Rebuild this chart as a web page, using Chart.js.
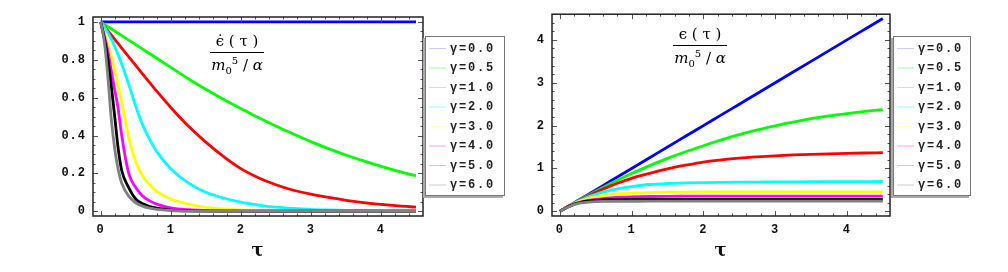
<!DOCTYPE html>
<html>
<head>
<meta charset="utf-8">
<script src="https://cdn.jsdelivr.net/npm/chart.js@4/dist/chart.umd.min.js"></script>
<style>
  body { margin: 0; background: #fff; width: 1008px; height: 272px; position: relative; overflow: hidden; }
  .panel { position: absolute; top: 0; width: 504px; height: 272px; }
  .legend { position: absolute; top: 36px; height: 158px; background: #fff; border: 1px solid #777; box-shadow: -2px 2px 0 #aaa; }
  .row { position: absolute; left: 0; height: 14px; }
  .row .sw { position: absolute; left: 3px; top: 6px; width: 17px; height: 1.5px; }
  .row .tx { position: absolute; left: 24px; top: 0; font: bold 12px "Liberation Mono", monospace; letter-spacing: 1.8px; line-height: 14px; color: #222; white-space: nowrap; }
  .frac { position: absolute; text-align: center; font-family: "DejaVu Serif", serif; font-size: 15px; color: #000; }
  .frac .num { height: 21px; line-height: 21px; border-bottom: 1px solid #000; white-space: nowrap; }
  .frac .den { height: 22px; line-height: 24px; white-space: nowrap; }
  .frac sub, .frac sup { font-size: 10px; line-height: 0; }
</style>
</head>
<body>
<div class="panel" style="left:0"><canvas id="rateChart" width="504" height="272"></canvas></div>
<div class="panel" style="left:504px"><canvas id="energyChart" width="504" height="272"></canvas></div>

<div class="frac" style="left:210px;top:31px;width:54px">
  <div class="num">ϵ̇ ( τ )</div>
  <div class="den"><i>m</i><sub>0</sub><sup>5</sup> / <i>α</i></div>
</div>
<div class="frac" style="left:673px;top:24px;width:54px">
  <div class="num">ϵ ( τ )</div>
  <div class="den"><i>m</i><sub>0</sub><sup>5</sup> / <i>α</i></div>
</div>

<div class="legend" id="legendLeft" style="left:425px;width:78px"></div>
<div class="legend" id="legendRight" style="left:893px;width:76px"></div>

<script>
// sample times
const tau = [0, 0.05, 0.1, 0.15, 0.2, 0.25, 0.3, 0.4, 0.5, 0.6, 0.7, 0.8, 1, 1.25, 1.5, 1.75, 2, 2.25, 2.5, 2.75, 3, 3.25, 3.5, 3.75, 4, 4.25, 4.5];

const gammaLabels = ["γ=0.0", "γ=0.5", "γ=1.0", "γ=2.0", "γ=3.0", "γ=4.0", "γ=5.0", "γ=6.0"];
const colors = ["#0000ff", "#00ff00", "#ff0000", "#00ffff", "#ffff00", "#ff00ff", "#000000", "#808080"];

// left panel: rate, edot(tau) / (m0^5/alpha)
const rate00 = [1, 1, 1, 1, 1, 1, 1, 1, 1, 1, 1, 1, 1, 1, 1, 1, 1, 1, 1, 1, 1, 1, 1, 1, 1, 1, 1];
const rate05 = [1, 0.988, 0.976, 0.964, 0.952, 0.94, 0.928, 0.904, 0.88, 0.856, 0.832, 0.808, 0.76, 0.70, 0.644, 0.592, 0.543, 0.495, 0.45, 0.408, 0.368, 0.331, 0.297, 0.266, 0.237, 0.211, 0.187];
const rate10 = [1, 0.977, 0.954, 0.931, 0.908, 0.885, 0.862, 0.816, 0.77, 0.724, 0.679, 0.634, 0.548, 0.45, 0.365, 0.29, 0.225, 0.177, 0.14, 0.111, 0.09, 0.073, 0.058, 0.046, 0.036, 0.028, 0.022];
const rate20 = [1, 0.975, 0.945, 0.91, 0.87, 0.826, 0.778, 0.67, 0.555, 0.455, 0.378, 0.315, 0.225, 0.15, 0.1, 0.07, 0.048, 0.033, 0.022, 0.015, 0.01, 0.007, 0.005, 0.004, 0.003, 0.002, 0.002];
const rate30 = [1, 0.945, 0.885, 0.82, 0.745, 0.66, 0.575, 0.39, 0.262, 0.185, 0.14, 0.105, 0.065, 0.038, 0.021, 0.012, 0.007, 0.005, 0.003, 0.002, 0.001, 0, 0, 0, 0, 0, 0];
const rate40 = [1, 0.93, 0.85, 0.745, 0.64, 0.54, 0.40, 0.2, 0.125, 0.08, 0.055, 0.038, 0.018, 0.008, 0.004, 0.002, 0.001, 0, 0, 0, 0, 0, 0, 0, 0, 0, 0];
const rate50 = [1, 0.915, 0.81, 0.665, 0.50, 0.33, 0.215, 0.125, 0.065, 0.04, 0.025, 0.016, 0.006, 0.002, 0.001, 0, 0, 0, 0, 0, 0, 0, 0, 0, 0, 0, 0];
const rate60 = [1, 0.9, 0.72, 0.49, 0.33, 0.22, 0.148, 0.08, 0.045, 0.027, 0.016, 0.01, 0.004, 0.001, 0, 0, 0, 0, 0, 0, 0, 0, 0, 0, 0, 0, 0];

// right panel: energy, e(tau) / (m0^5/alpha)
const energy00 = [0, 0.05, 0.1, 0.15, 0.2, 0.25, 0.3, 0.4, 0.5, 0.6, 0.7, 0.8, 1, 1.25, 1.5, 1.75, 2, 2.25, 2.5, 2.75, 3, 3.25, 3.5, 3.75, 4, 4.25, 4.5];
const energy05 = [0, 0.05, 0.099, 0.147, 0.195, 0.243, 0.289, 0.381, 0.47, 0.557, 0.641, 0.723, 0.88, 1.065, 1.235, 1.39, 1.53, 1.665, 1.79, 1.9, 1.995, 2.08, 2.16, 2.225, 2.28, 2.33, 2.375];
const energy10 = [0, 0.049, 0.098, 0.145, 0.191, 0.236, 0.279, 0.363, 0.443, 0.517, 0.587, 0.653, 0.77, 0.885, 0.99, 1.075, 1.15, 1.2, 1.24, 1.27, 1.295, 1.315, 1.33, 1.342, 1.352, 1.36, 1.367];
const energy20 = [0, 0.049, 0.096, 0.142, 0.186, 0.228, 0.267, 0.339, 0.398, 0.448, 0.49, 0.525, 0.577, 0.625, 0.648, 0.661, 0.669, 0.675, 0.679, 0.682, 0.685, 0.687, 0.689, 0.691, 0.692, 0.694, 0.695];
const energy30 = [0, 0.049, 0.095, 0.138, 0.178, 0.215, 0.248, 0.302, 0.34, 0.368, 0.388, 0.403, 0.422, 0.436, 0.444, 0.448, 0.451, 0.452, 0.453, 0.454, 0.454, 0.455, 0.455, 0.455, 0.455, 0.455, 0.455];
const energy40 = [0, 0.048, 0.093, 0.133, 0.168, 0.197, 0.22, 0.255, 0.28, 0.298, 0.312, 0.322, 0.336, 0.345, 0.35, 0.352, 0.354, 0.355, 0.355, 0.355, 0.355, 0.355, 0.355, 0.355, 0.355, 0.355, 0.355];
const energy50 = [0, 0.048, 0.092, 0.132, 0.166, 0.194, 0.215, 0.242, 0.257, 0.265, 0.27, 0.273, 0.276, 0.277, 0.278, 0.278, 0.278, 0.278, 0.278, 0.278, 0.278, 0.278, 0.278, 0.278, 0.278, 0.278, 0.278];
const energy60 = [0, 0.048, 0.09, 0.125, 0.155, 0.178, 0.195, 0.215, 0.225, 0.23, 0.232, 0.233, 0.234, 0.235, 0.235, 0.235, 0.235, 0.235, 0.235, 0.235, 0.235, 0.235, 0.235, 0.235, 0.235, 0.235, 0.235];

// axis ticks
const tauTicks = [0, 1, 2, 3, 4];
const tauTickLabels = ["0", "1", "2", "3", "4"];
const rateTicks = [0, 0.2, 0.4, 0.6, 0.8, 1];
const rateTickLabels = ["0", "0.2", "0.4", "0.6", "0.8", "1"];
const energyTicks = [0, 1, 2, 3, 4];
const energyTickLabels = ["0", "1", "2", "3", "4"];

const tickFont = { family: "Liberation Mono", size: 12, weight: "bold" };

// Mathematica-style frame with ticks pointing inward, on all four sides
const frameTicks = {
  id: "frameTicks",
  beforeDraw(chart) {
    chart.ctx.letterSpacing = "1px";
  },
  afterDraw(chart, args, opts) {
    const { ctx, chartArea: a, scales } = chart;
    const x = scales.x, y = scales.y;
    ctx.save();
    ctx.letterSpacing = "0px";
    ctx.strokeStyle = "#555";
    ctx.lineWidth = 1;
    ctx.beginPath();
    const xMark = (v, len) => {
      const px = Math.round(x.getPixelForValue(v)) + 0.5;
      if (px < a.left || px > a.right) return;
      ctx.moveTo(px, a.bottom); ctx.lineTo(px, a.bottom - len);
      ctx.moveTo(px, a.top); ctx.lineTo(px, a.top + len);
    };
    const yMark = (v, len) => {
      const py = Math.round(y.getPixelForValue(v)) + 0.5;
      if (py < a.top || py > a.bottom) return;
      ctx.moveTo(a.left, py); ctx.lineTo(a.left + len, py);
      ctx.moveTo(a.right, py); ctx.lineTo(a.right - len, py);
    };
    for (let v = 0; v <= x.max + 1e-9; v += opts.xMinor) xMark(v, 2.5);
    for (let v = 0; v <= y.max + 1e-9; v += opts.yMinor) yMark(v, 2.5);
    x.ticks.forEach((t) => xMark(t.value, 5));
    y.ticks.forEach((t) => yMark(t.value, 5));
    ctx.stroke();
    ctx.strokeStyle = "#222";
    ctx.lineWidth = 1.5;
    ctx.strokeRect(a.left, a.top, a.right - a.left, a.bottom - a.top);
    ctx.restore();
  },
};

function makeChart(id, series, yTicks, yLabels, cfg) {
  const datasets = series.map((ys, i) => ({
    label: gammaLabels[i],
    data: tau.map((t, k) => ({ x: t, y: ys[k] })),
    borderColor: colors[i],
    borderWidth: 2.8,
    pointRadius: 0,
    cubicInterpolationMode: "monotone",
    order: series.length - i,
  }));
  return new Chart(document.getElementById(id), {
    type: "line",
    data: { datasets },
    options: {
      responsive: false,
      animation: false,
      devicePixelRatio: 1,
      layout: { padding: { left: 0, top: cfg.top, right: cfg.right, bottom: 0 } },
      plugins: {
        legend: { display: false },
        tooltip: { enabled: false },
        frameTicks: { xMinor: 0.2, yMinor: cfg.yMinor },
      },
      scales: {
        x: {
          type: "linear",
          min: -0.11,
          max: 4.6,
          afterFit: (s) => { s.height = 56; },
          afterBuildTicks: (s) => { s.ticks = tauTicks.map((v) => ({ value: v })); },
          grid: { display: false, drawTicks: false },
          border: { display: false },
          ticks: { padding: 7, color: "#111", font: tickFont, maxRotation: 0, callback: (v, i) => tauTickLabels[i] },
          title: {
            display: true,
            text: "τ",
            color: "#111",
            font: { family: "DejaVu Serif", size: 18, weight: "bold" },
            padding: { top: 10, bottom: 10 },
          },
        },
        y: {
          type: "linear",
          min: cfg.yMin,
          max: cfg.yMax,
          afterFit: (s) => { s.width = cfg.yWidth; },
          afterBuildTicks: (s) => { s.ticks = yTicks.map((v) => ({ value: v })); },
          grid: { display: false, drawTicks: false },
          border: { display: false },
          ticks: { padding: 7, color: "#111", font: tickFont, callback: (v, i) => yLabels[i] },
        },
      },
    },
    plugins: [frameTicks],
  });
}

makeChart("rateChart",
  [rate00, rate05, rate10, rate20, rate30, rate40, rate50, rate60],
  rateTicks, rateTickLabels,
  { top: 17, right: 81, yWidth: 93, yMin: -0.025, yMax: 1.026, yMinor: 0.05 });

makeChart("energyChart",
  [energy00, energy05, energy10, energy20, energy30, energy40, energy50, energy60],
  energyTicks, energyTickLabels,
  { top: 13, right: 118, yWidth: 48, yMin: -0.11, yMax: 4.6, yMinor: 0.2 });

// legends with pale line samples
function buildLegend(el) {
  gammaLabels.forEach((lab, i) => {
    const row = document.createElement("div");
    row.className = "row";
    row.style.top = (4.5 + 19.57 * i) + "px";
    row.style.width = "100%";
    const sw = document.createElement("div");
    sw.className = "sw";
    sw.style.background = colors[i];
    sw.style.opacity = "0.2";
    const tx = document.createElement("div");
    tx.className = "tx";
    tx.textContent = lab;
    row.appendChild(sw);
    row.appendChild(tx);
    el.appendChild(row);
  });
}
buildLegend(document.getElementById("legendLeft"));
buildLegend(document.getElementById("legendRight"));
</script>
</body>
</html>
